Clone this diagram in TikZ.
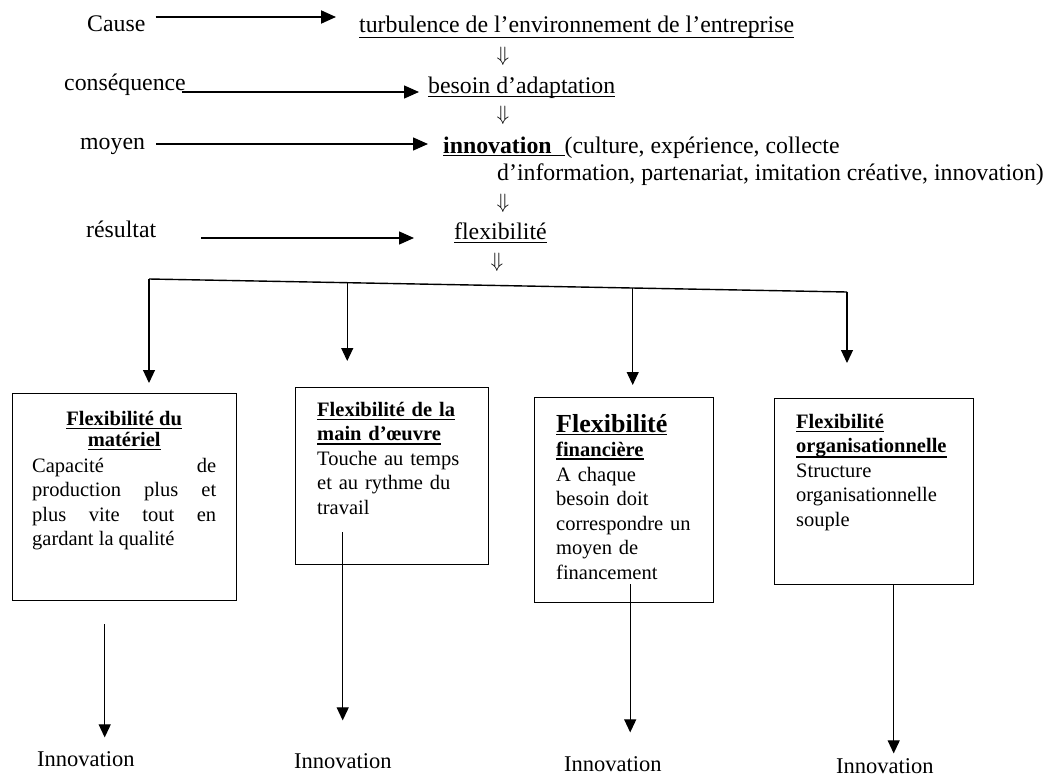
\documentclass[tikz,border=0pt]{standalone}
\usepackage{fontspec}
\setmainfont{Liberation Serif}
\usetikzlibrary{arrows.meta,calc}
\newcommand{\uu}[2]{\leavevmode\setbox0=\hbox{#2}\rlap{\rule[-#1]{\wd0}{1.3pt}}\box0}
\tikzset{
  lbl/.style={inner sep=0pt, anchor=base west, font=\fontsize{23.8}{28}\selectfont},
  tarr/.style={-{Triangle[length=15pt,width=13pt]}, line width=1.4pt},
  varr/.style={-{Triangle[length=13pt,width=12pt]}, line width=1.1pt},
  dbl/.style={inner sep=0pt, font=\fontsize{22}{22}\selectfont},
  box/.style={draw, line width=1.4pt, rectangle, inner sep=0pt, anchor=north west},
  btxt/.style={inner sep=0pt, anchor=base west, font=\fontsize{20.5}{24.5}\selectfont, align=left},
  inno/.style={inner sep=0pt, anchor=base west, font=\fontsize{22.5}{27}\selectfont},
  busline/.style={line width=1.4pt},
}
\begin{document}
\begin{tikzpicture}[x=1pt,y=-1pt]
\useasboundingbox (0,0) rectangle (1051,776);
% top chain
\node[lbl] (cause) at (87,32) {Cause};
\node[lbl] (turb) at (359,33) {\uu{5pt}{turbulence de l’environnement de l’entreprise}};
\node[dbl] (d1) at (503,56) {$\Downarrow$};
\node[lbl] (cons) at (64,90) {conséquence};
\node[lbl] (besoin) at (428,93) {\uu{4pt}{besoin d’adaptation}};
\node[dbl] (d2) at (503,115) {$\Downarrow$};
\node[lbl] (moyen) at (80,149) {moyen};
\node[lbl] (innov) at (443,153) {{\bfseries\uu{3pt}{innovation}}\uu{3pt}{\hbox to 13pt{\hfil}}(culture, expérience, collecte};
\node[lbl] (innov2) at (497,180) {d’information, partenariat, imitation créative, innovation)};
\node[dbl] (d3) at (503,203) {$\Downarrow$};
\node[lbl] (res) at (86,237) {résultat};
\node[lbl] (flex) at (454,239) {\uu{4pt}{flexibilité}};
\node[dbl] (d4) at (497,262) {$\Downarrow$};
% top arrows
\draw[tarr, line width=2pt] ([xshift=10pt,yshift=15pt]cause.base east) -- ([xshift=-23pt,yshift=16pt]turb.base west);
\draw[tarr] ([xshift=-4pt,yshift=-2pt]cons.base east) -- ([xshift=-9pt,yshift=1pt]besoin.base west);
\draw[tarr] ([xshift=11pt,yshift=5pt]moyen.base east) -- ([xshift=-15pt,yshift=9pt]innov.base west);
\draw[tarr] ([xshift=45pt,yshift=-1pt]res.base east) -- ([xshift=-40pt,yshift=1pt]flex.base west);
% boxes
\node[box, minimum width=224pt, minimum height=207pt] (box1) at (12,393) {};
\node[box, minimum width=193pt, minimum height=177pt] (box2) at (295,387) {};
\node[box, minimum width=179pt, minimum height=205pt] (box3) at (534,397) {};
\node[box, minimum width=199pt, minimum height=186pt] (box4) at (774,398) {};
\node[btxt, text width=184pt, align=justify] (t1) at (32,425) {%
  {\centering\bfseries\uu{4pt}{Flexibilité du}\\[-3.5pt]\uu{4pt}{matériel}\par}\vspace{1.5pt}%
  Capacité de\linebreak production plus et\linebreak plus vite tout en\linebreak gardant la qualité};
\node[btxt, text width=165pt] (t2) at (317,416) {%
  {\bfseries\uu{4pt}{Flexibilité de la}}\\{\bfseries\uu{4pt}{main d’œuvre}}\\
  Touche au temps\\et au rythme du\\travail};
\node[btxt, text width=150pt] (t3) at (556,432) {%
  {\fontsize{26}{24.5}\selectfont\bfseries\uu{3pt}{Flexibilité}}\\{\bfseries\uu{3pt}{financière}}\\
  A chaque\\besoin doit\\correspondre un\\moyen de\\financement};
\node[btxt, text width=172pt] (t4) at (796,428) {%
  {\bfseries\uu{4pt}{Flexibilité}}\\{\bfseries\uu{5pt}{organisationnelle}}\\
  Structure\\organisationnelle\\souple};
% bus and arrows to boxes
\coordinate (bl) at (149,279);
\coordinate (br) at (847,292);
\draw[busline] (bl) -- (br);
\coordinate (j2) at ($(bl)!0.284!(br)$);
\coordinate (j3) at ($(bl)!0.693!(br)$);
\draw[varr, shorten >=10pt] (bl) -- (bl |- box1.north);
\draw[varr, shorten >=26pt] (j2) -- (j2 |- box2.north);
\draw[varr, shorten >=12pt] (j3) -- (j3 |- box3.north);
\draw[varr, shorten >=35pt] (br) -- (br |- box4.north);
% innovation labels
\node[inno] (i1) at (37,766) {Innovation};
\node[inno] (i2) at (294,768) {Innovation};
\node[inno] (i3) at (564,771) {Innovation};
\node[inno] (i4) at (836,773) {Innovation};
\coordinate (s1) at ([xshift=-20pt,yshift=-23pt]box1.south);
\coordinate (s2) at ([xshift=-49.5pt,yshift=33pt]box2.south);
\coordinate (s3) at ([xshift=6pt,yshift=19pt]box3.south);
\coordinate (s4) at ([xshift=19.5pt]box4.south);
\draw[varr, shorten >=13.5pt] (s1) -- (s1 |- i1.north);
\draw[varr, shorten >=32.5pt] (s2) -- (s2 |- i2.north);
\draw[varr, shorten >=23.5pt] (s3) -- (s3 |- i3.north);
\draw[varr, shorten >=4.5pt] (s4) -- (s4 |- i4.north);
\end{tikzpicture}
\end{document}
